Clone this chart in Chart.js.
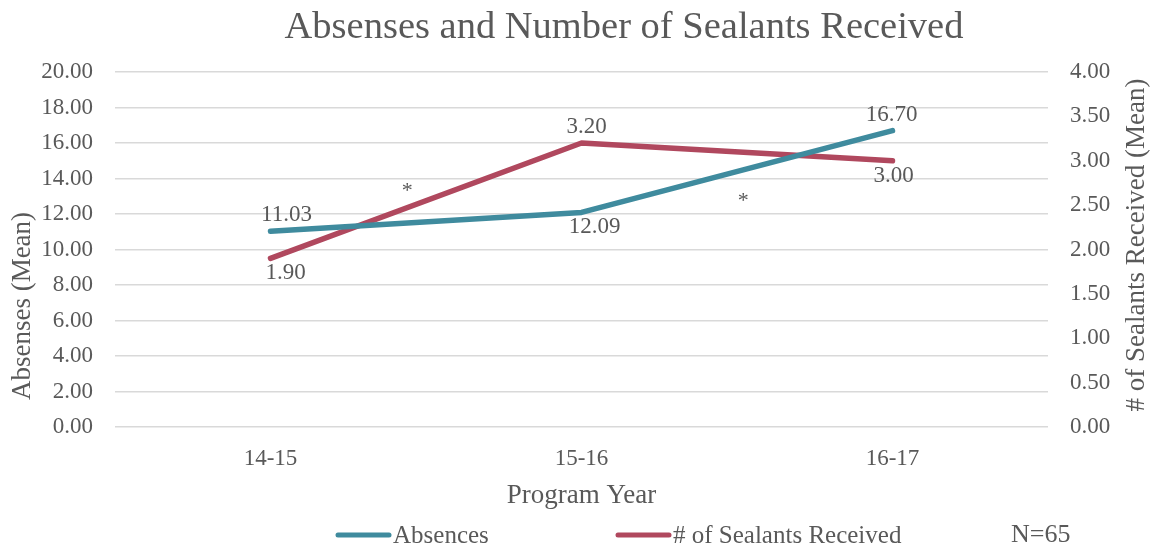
<!DOCTYPE html>
<html>
<head>
<meta charset="utf-8">
<script src="https://cdn.jsdelivr.net/npm/chart.js@4/dist/chart.umd.min.js"></script>
<style>
  html, body { margin: 0; padding: 0; background: #fff; }
  #wrap { width: 1153px; height: 546px; position: relative; }
</style>
</head>
<body>
<div id="wrap"><canvas id="c"></canvas></div>
<script>
// Program years and mean values per year
const programYears = ['14-15', '15-16', '16-17'];
const absencesMean = [11.03, 12.09, 16.70];
const sealantsMean = [1.90, 3.20, 3.00];
const leftTicks = [0, 2, 4, 6, 8, 10, 12, 14, 16, 18, 20];
const rightTicks = [0, 0.5, 1, 1.5, 2, 2.5, 3, 3.5, 4];
// significance markers between years (category index, absences-axis value)
const sigMarkers = [{ x: 0.44, y: 13.5 }, { x: 1.52, y: 12.95 }];
const sampleSize = 'N=65';

const SERIF = "'Liberation Serif', 'Times New Roman', serif";
const TEXT = '#595959';
const TEAL = '#3F8B9E';
const RED = '#B0485E';

// value labels, asterisks, titles and legend drawn on the canvas
const decorations = {
  id: 'decorations',
  afterDatasetsDraw(chart) {
    const { ctx, scales } = chart;
    ctx.save();
    ctx.fillStyle = TEXT;
    ctx.textAlign = 'center';
    ctx.textBaseline = 'middle';
    ctx.font = '23px ' + SERIF;
    chart.data.datasets.forEach((ds, di) => {
      const meta = chart.getDatasetMeta(di);
      meta.data.forEach((pt, i) => {
        const side = ds.labelSide[i] === 'above' ? -1 : 1;
        const gap = side < 0 ? 16 : 15;
        ctx.fillText(ds.data[i].toFixed(2), pt.x + ds.labelShift[i], pt.y + side * gap);
      });
    });

    // significance asterisks
    ctx.font = '22px ' + SERIF;
    ctx.textBaseline = 'alphabetic';
    sigMarkers.forEach(m => {
      const x = scales.x.getPixelForValue(m.x);
      const y = scales.y.getPixelForValue(m.y);
      ctx.fillText('*', x, y + 10);
    });

    // chart title
    ctx.textBaseline = 'middle';
    ctx.font = '38.5px ' + SERIF;
    ctx.fillText('Absenses and Number of Sealants Received', 624, 28);

    // vertical axis titles
    ctx.font = '27px ' + SERIF;
    ctx.save();
    ctx.translate(23, 306);
    ctx.rotate(-Math.PI / 2);
    ctx.fillText('Absenses (Mean)', 0, 0);
    ctx.restore();
    ctx.save();
    ctx.translate(1137, 245);
    ctx.rotate(-Math.PI / 2);
    ctx.fillText('# of Sealants Received (Mean)', 0, 0);
    ctx.restore();

    // legend
    const legendY = 535;
    const starts = [336, 616];
    ctx.font = '25px ' + SERIF;
    ctx.textAlign = 'left';
    chart.data.datasets.forEach((ds, di) => {
      const x0 = starts[di];
      ctx.strokeStyle = ds.borderColor;
      ctx.lineWidth = 5;
      ctx.lineCap = 'round';
      ctx.beginPath();
      ctx.moveTo(x0 + 2, legendY);
      ctx.lineTo(x0 + 53, legendY);
      ctx.stroke();
      ctx.fillText(ds.label, x0 + 57, legendY + 1);
    });
    ctx.font = '26px ' + SERIF;
    ctx.fillText(sampleSize, 1011, legendY);
    ctx.restore();
  }
};

new Chart(document.getElementById('c'), {
  type: 'line',
  data: {
    labels: programYears,
    datasets: [
      {
        label: 'Absences',
        data: absencesMean,
        yAxisID: 'y',
        borderColor: TEAL,
        backgroundColor: TEAL,
        borderWidth: 5.5,
        borderCapStyle: 'round',
        borderJoinStyle: 'round',
        pointRadius: 0,
        tension: 0,
        labelSide: ['above', 'below', 'above'],
        labelShift: [16, 13, -1]
      },
      {
        label: '# of Sealants Received',
        data: sealantsMean,
        yAxisID: 'y1',
        borderColor: RED,
        backgroundColor: RED,
        borderWidth: 5.5,
        borderCapStyle: 'round',
        borderJoinStyle: 'round',
        pointRadius: 0,
        tension: 0,
        labelSide: ['below', 'above', 'below'],
        labelShift: [15, 5, 1]
      }
    ]
  },
  options: {
    responsive: true,
    maintainAspectRatio: false,
    animation: false,
    layout: { padding: { top: 72, left: 0, right: 0, bottom: 0 } },
    plugins: {
      legend: { display: false },
      title: { display: false },
      tooltip: { enabled: false }
    },
    scales: {
      x: {
        offset: true,
        grid: { display: false },
        border: { display: false },
        ticks: { color: TEXT, font: { family: SERIF, size: 23 }, padding: 10 },
        title: {
          display: true,
          text: 'Program Year',
          color: TEXT,
          font: { family: SERIF, size: 27 },
          padding: { top: 0, bottom: 34 }
        },
        afterFit(scale) { scale.height = 119; }
      },
      y: {
        position: 'left',
        min: 0,
        max: 20,
        afterBuildTicks(scale) { scale.ticks = leftTicks.map(v => ({ value: v })); },
        grid: { color: '#D9D9D9', lineWidth: 1.5, drawTicks: false },
        border: { display: false },
        ticks: {
          color: TEXT,
          font: { family: SERIF, size: 23 },
          padding: 22,
          callback: v => Number(v).toFixed(2)
        },
        afterFit(scale) { scale.width = 115; }
      },
      y1: {
        position: 'right',
        min: 0,
        max: 4,
        afterBuildTicks(scale) { scale.ticks = rightTicks.map(v => ({ value: v })); },
        grid: { drawOnChartArea: false, drawTicks: false },
        border: { display: false },
        ticks: {
          color: TEXT,
          font: { family: SERIF, size: 23 },
          padding: 22,
          callback: v => Number(v).toFixed(2)
        },
        afterFit(scale) { scale.width = 105; }
      }
    }
  },
  plugins: [decorations]
});
</script>
</body>
</html>
